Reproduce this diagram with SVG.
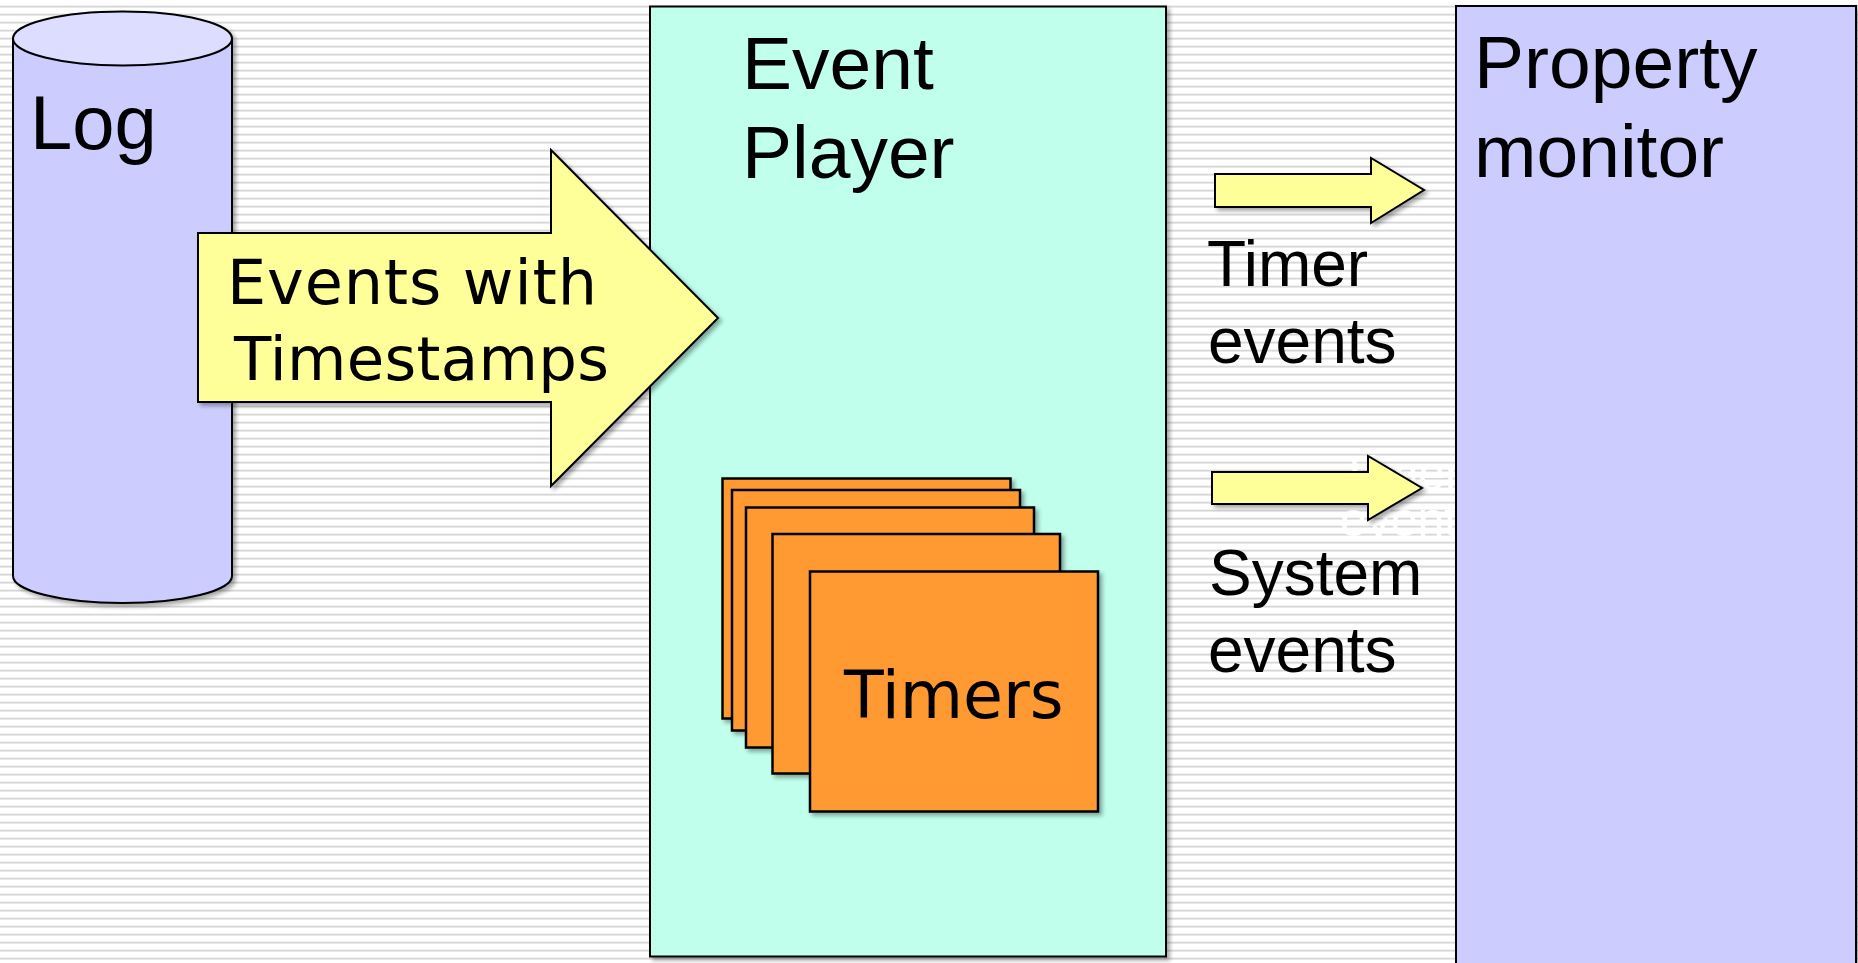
<svg xmlns="http://www.w3.org/2000/svg" width="1858" height="963" viewBox="0 0 1858 963">
  <style>
    .sans { font-family: "Liberation Sans", Arial, sans-serif; fill: #000; }
    .dv { font-family: "DejaVu Sans", Verdana, sans-serif; fill: #000; }
    .ghost { font-family: "Liberation Sans", Arial, sans-serif; fill: #ffffff; }
    .edge { stroke: #000; stroke-width: 2; }
    .yellow { fill: #FFFF99; stroke: #000; stroke-width: 2; stroke-linejoin: miter; }
    .timer { fill: #FF9933; stroke: #000; stroke-width: 2.5; }
  </style>
  <defs>
    <pattern id="stripes" x="0" y="0" width="8" height="8" patternUnits="userSpaceOnUse">
      <rect x="0" y="0" width="8" height="8" fill="#ffffff"/>
      <rect x="0" y="5" width="8" height="1" fill="#f3f3f3"/>
      <rect x="0" y="6" width="8" height="1" fill="#d6d6d6"/>
      <rect x="0" y="7" width="8" height="1" fill="#e9e9e9"/>
    </pattern>
    <filter id="shadow" x="-10%" y="-10%" width="130%" height="130%">
      <feGaussianBlur in="SourceAlpha" stdDeviation="2"/>
      <feOffset dx="3" dy="3" result="off"/>
      <feComponentTransfer><feFuncA type="linear" slope="0.35"/></feComponentTransfer>
      <feMerge><feMergeNode/><feMergeNode in="SourceGraphic"/></feMerge>
    </filter>
  </defs>

  <rect x="0" y="0" width="1858" height="963" fill="url(#stripes)"/>

  <g id="log">
    <g filter="url(#shadow)">
      <path d="M13,38.5 L13,576 A109.5,27 0 0 0 232,576 L232,38.5 Z" fill="#CCCCFF" class="edge"/>
      <ellipse cx="122.5" cy="38.5" rx="109.5" ry="27" fill="#DDDDFF" class="edge"/>
    </g>
    <text class="sans" x="30" y="149" font-size="76">Log</text>
  </g>

  <g id="event-player">
    <rect x="650" y="6.5" width="516" height="950" fill="#BFFFEC" class="edge" filter="url(#shadow)"/>
    <text class="sans" x="742" y="89" font-size="75">Event</text>
    <text class="sans" x="742" y="178" font-size="75">Player</text>
  </g>

  <g id="timers">
    <g filter="url(#shadow)">
      <rect class="timer" x="722.5" y="478.5" width="288" height="240"/>
      <rect class="timer" x="732" y="490" width="288" height="240.5"/>
      <rect class="timer" x="746" y="507.5" width="288" height="240"/>
      <rect class="timer" x="772.5" y="534" width="287.5" height="239.5"/>
      <rect class="timer" x="810" y="571.5" width="288" height="240"/>
    </g>
    <text class="dv" x="844" y="718" font-size="65">Timers</text>
  </g>

  <g id="ghost-label">
    <text class="ghost" x="1340" y="490" font-size="48">Timer</text>
    <text class="ghost" x="1340" y="536" font-size="48">events</text>
  </g>

  <g id="property-monitor">
    <rect x="1456" y="6" width="400" height="980" fill="#CCCCFF" class="edge" filter="url(#shadow)"/>
    <text class="sans" x="1474" y="88" font-size="75">Property</text>
    <text class="sans" x="1474" y="177" font-size="75">monitor</text>
  </g>

  <g id="connectors">
    <g id="events-arrow">
      <polygon class="yellow" filter="url(#shadow)" points="198,233 551,233 551,150 718,318 551,486 551,402 198,402"/>
      <text class="dv" x="227" y="304" font-size="62" textLength="370" lengthAdjust="spacing">Events with</text>
      <text class="dv" x="234" y="380" font-size="61" textLength="375" lengthAdjust="spacing">Timestamps</text>
    </g>
    <g id="timer-events-arrow">
      <polygon class="yellow" filter="url(#shadow)" points="1215,174 1371,174 1371,158 1424,190 1371,223 1371,207 1215,207"/>
      <text class="sans" x="1207" y="286" font-size="64">Timer</text>
      <text class="sans" x="1208" y="363" font-size="64">events</text>
    </g>
    <g id="system-events-arrow">
      <polygon class="yellow" filter="url(#shadow)" points="1212,472 1368,472 1368,456 1422,488 1368,520 1368,504 1212,504"/>
      <text class="sans" x="1209" y="595" font-size="64">System</text>
      <text class="sans" x="1208" y="672" font-size="64">events</text>
    </g>
  </g>
</svg>
